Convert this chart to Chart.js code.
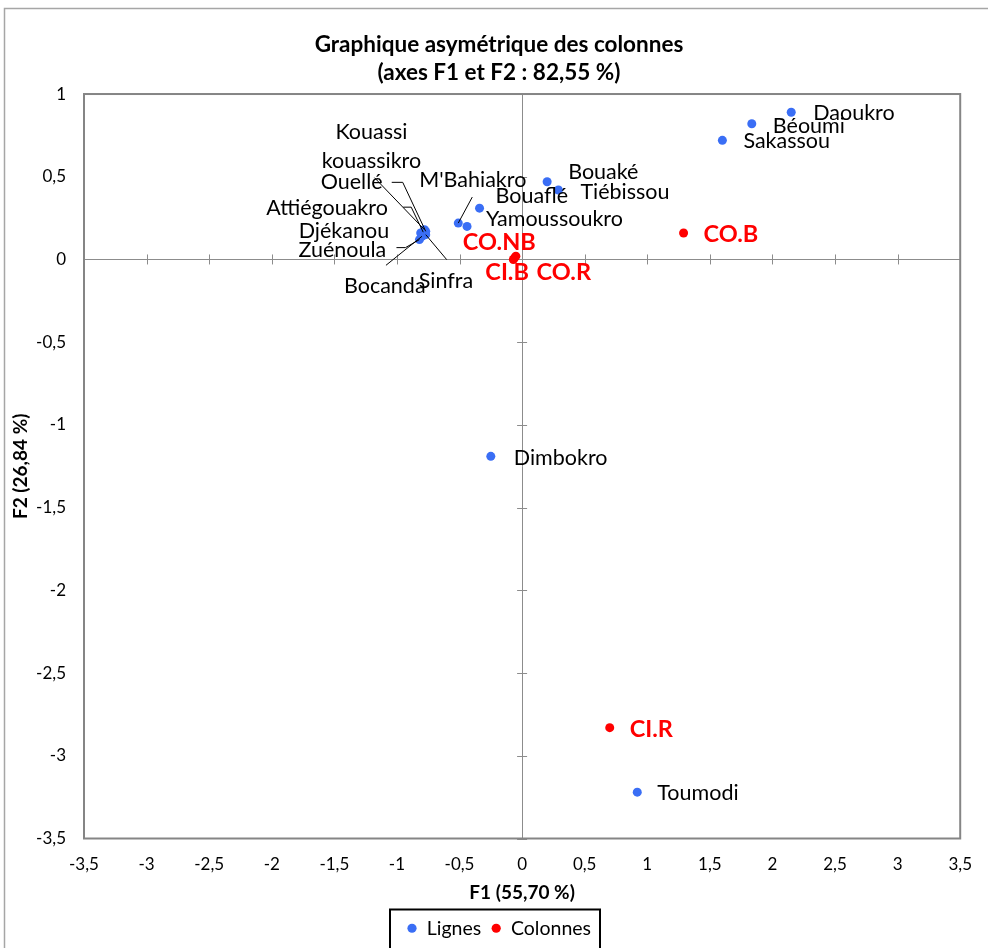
<!DOCTYPE html>
<html>
<head>
<meta charset="utf-8">
<script src="https://cdn.jsdelivr.net/npm/chart.js@4.4.1/dist/chart.umd.min.js"></script>
<style>
  html, body { margin: 0; padding: 0; background: #fff; }
  #wrap { width: 988px; height: 948px; }
</style>
</head>
<body>
<div id="wrap"><canvas id="myChart" width="988" height="948"></canvas></div>
<script>
// rows (Lignes)
const ligneNames = ['Daoukro', 'Béoumi', 'Sakassou', 'Bouaké', 'Tiébissou', 'Bouaflé', 'Yamoussoukro',
  "M'Bahiakro", 'Dimbokro', 'Toumodi', 'Kouassi\nkouassikro', 'Ouellé', 'Attiégouakro',
  'Djékanou', 'Zuénoula', 'Bocanda', 'Sinfra'];
const ligneF1 = [2.15, 1.835, 1.60, 0.20, 0.29, -0.34, -0.44, -0.51, -0.25, 0.92, -0.78, -0.77, -0.79, -0.81, -0.82, -0.80, -0.77];
const ligneF2 = [0.89, 0.82, 0.72, 0.47, 0.42, 0.31, 0.20, 0.22, -1.19, -3.22, 0.18, 0.17, 0.165, 0.16, 0.12, 0.14, 0.15];

// columns (Colonnes)
const colNames = ['CO.B', 'CO.NB', 'CO.R', 'CI.B', 'CI.R'];
const colF1 = [1.29, -0.05, -0.06, -0.07, 0.70];
const colF2 = [0.16, 0.02, 0.01, 0.00, -2.83];

// label placement relative to the point: [dx, dy, align, leader points]
const ligneLabelPos = [
  [22, 1], [21, 2], [21, 1], [21, -10], [22, 2], [16, -12], [19, -7],
  [-39, -43, 'left', [[14, -26]]],
  [23, 2], [20, 1],
  [-53, -98, 'center', [[-50, -52]]],
  [-105, -49, 'left', [[-23, -49], [-34, -49]]],
  [-157, -24, 'left', [[-12, -25], [-20, -25]]],
  [-122, -2],
  [-121, 10, 'left', [[-14, 8], [-23, 8]]],
  [-78, 50, 'left', [[-36, 29]]],
  [-7, 46, 'left', [[21, 25]]]
];
const colLabelPos = [[20, 1], [-53, -14], [22, 15], [-28, 13], [20, 2]];

const blue = '#3a6ef5';
const red = '#ff0000';
const fontFam = 'Lato, "Open Sans", sans-serif';

function toPoints(xs, ys) {
  return xs.map((x, i) => ({x: x, y: ys[i]}));
}
function fmt(v) {
  return String(v).replace('.', ',');
}

const framePlugin = {
  id: 'frame',
  beforeDraw(chart) {
    const ctx = chart.ctx;
    ctx.save();
    ctx.fillStyle = '#fff';
    ctx.fillRect(0, 0, chart.width, chart.height);
    ctx.strokeStyle = '#a6a6a6';
    ctx.lineWidth = 1.5;
    ctx.beginPath();
    ctx.moveTo(4.5, chart.height + 2);
    ctx.lineTo(4.5, 8.5);
    ctx.lineTo(chart.width + 2, 8.5);
    ctx.stroke();
    ctx.restore();
  },
  beforeDatasetsDraw(chart) {
    const ctx = chart.ctx;
    const a = chart.chartArea;
    const xs = chart.scales.x, ys = chart.scales.y;
    const x0 = xs.getPixelForValue(0), y0 = ys.getPixelForValue(0);
    ctx.save();
    ctx.strokeStyle = '#8c8c8c';
    ctx.lineWidth = 1;
    ctx.beginPath();
    ctx.moveTo(Math.round(x0) + 0.5, a.top);
    ctx.lineTo(Math.round(x0) + 0.5, a.bottom);
    ctx.moveTo(a.left, Math.round(y0) + 0.5);
    ctx.lineTo(a.right, Math.round(y0) + 0.5);
    xs.ticks.forEach(t => {
      const px = Math.round(xs.getPixelForValue(t.value)) + 0.5;
      ctx.moveTo(px, y0 - 5);
      ctx.lineTo(px, y0 + 5);
    });
    ys.ticks.forEach(t => {
      const py = Math.round(ys.getPixelForValue(t.value)) + 0.5;
      ctx.moveTo(x0 - 5, py);
      ctx.lineTo(x0 + 5, py);
    });
    ctx.stroke();
    // plot border
    ctx.strokeStyle = '#858585';
    ctx.lineWidth = 2;
    ctx.strokeRect(a.left, a.top, a.right - a.left, a.bottom - a.top);
    ctx.restore();
  },
  afterDraw(chart) {
    // box round the legend
    const lg = chart.legend;
    if (!lg || !lg.legendHitBoxes.length) return;
    const hb = lg.legendHitBoxes;
    const first = hb[0], last = hb[hb.length - 1];
    const ctx = chart.ctx;
    ctx.save();
    ctx.strokeStyle = '#000';
    ctx.lineWidth = 2;
    const l = Math.round(first.left - 17), r = Math.round(last.left + last.width + 9);
    ctx.strokeRect(l, Math.round(lg.top) + 0.5, r - l, chart.height);
    ctx.restore();
  }
};

const labelPlugin = {
  id: 'pointLabels',
  afterDatasetsDraw(chart) {
    const ctx = chart.ctx;
    const sets = [
      {meta: chart.getDatasetMeta(0), names: ligneNames, pos: ligneLabelPos, color: '#000', font: '21.5px ' + fontFam},
      {meta: chart.getDatasetMeta(1), names: colNames, pos: colLabelPos, color: red, font: 'bold 23.5px ' + fontFam}
    ];
    ctx.save();
    sets.forEach(s => {
      s.meta.data.forEach((el, i) => {
        const p = s.pos[i];
        const px = el.x, py = el.y;
        if (p[3]) {
          ctx.strokeStyle = '#000';
          ctx.lineWidth = 1;
          ctx.beginPath();
          ctx.moveTo(px, py);
          p[3].forEach(q => ctx.lineTo(px + q[0], py + q[1]));
          ctx.stroke();
        }
        ctx.fillStyle = s.color;
        ctx.font = s.font;
        ctx.textAlign = p[2] || 'left';
        ctx.textBaseline = 'middle';
        s.names[i].split('\n').forEach((line, k) => {
          ctx.fillText(line, px + p[0], py + p[1] + k * 29);
        });
      });
    });
    ctx.restore();
  }
};

const ctx = document.getElementById('myChart').getContext('2d');
const myChart = new Chart(ctx, {
  type: 'scatter',
  data: {
    datasets: [
      {
        label: 'Lignes',
        data: toPoints(ligneF1, ligneF2),
        backgroundColor: blue,
        borderColor: blue,
        pointRadius: 4.5,
        pointBorderWidth: 0
      },
      {
        label: 'Colonnes',
        data: toPoints(colF1, colF2),
        backgroundColor: red,
        borderColor: red,
        pointRadius: 4.5,
        pointBorderWidth: 0
      }
    ]
  },
  options: {
    responsive: false,
    animation: false,
    layout: {padding: {left: 34, right: 24, top: 0, bottom: 0}},
    scales: {
      x: {
        min: -3.5,
        max: 3.5,
        grid: {display: false, drawTicks: false},
        border: {display: false},
        ticks: {
          stepSize: 0.5,
          autoSkip: false,
          maxRotation: 0,
          padding: 16,
          color: '#000',
          font: {family: fontFam, size: 17},
          callback: v => fmt(v)
        },
        title: {
          display: true,
          text: 'F1 (55,70 %)',
          color: '#000',
          font: {family: fontFam, size: 19, weight: 'bold'},
          padding: {top: 0, bottom: 4}
        },
        afterFit: s => { s.height = 70; }
      },
      y: {
        min: -3.5,
        max: 1,
        grid: {display: false, drawTicks: false},
        border: {display: false},
        ticks: {
          stepSize: 0.5,
          autoSkip: false,
          padding: 18,
          color: '#000',
          font: {family: fontFam, size: 17},
          callback: v => fmt(v)
        },
        title: {
          display: true,
          text: 'F2 (26,84 %)',
          color: '#000',
          font: {family: fontFam, size: 19, weight: 'bold'},
          padding: {top: -25, bottom: 0}
        },
        afterFit: s => { s.width = 50; }
      }
    },
    plugins: {
      title: {
        display: true,
        text: ['Graphique asymétrique des colonnes', '(axes F1 et F2 : 82,55 %)'],
        color: '#000',
        font: {family: fontFam, size: 22.5, weight: 'bold', lineHeight: 1.245},
        padding: {top: 31, bottom: 7}
      },
      legend: {
        position: 'bottom',
        labels: {
          usePointStyle: true,
          pointStyle: 'circle',
          boxWidth: 10,
          boxHeight: 6.5,
          padding: 10,
          color: '#000',
          font: {family: fontFam, size: 19.5}
        }
      },
      tooltip: {enabled: false}
    }
  },
  plugins: [framePlugin, labelPlugin]
});
</script>
</body>
</html>
